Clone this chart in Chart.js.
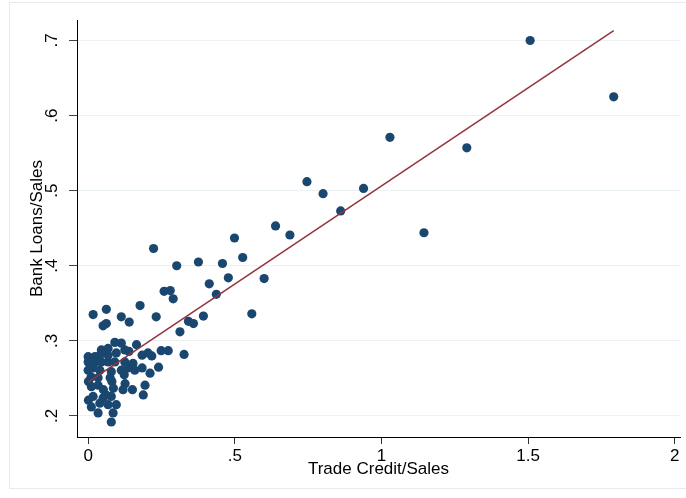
<!DOCTYPE html>
<html>
<head>
<meta charset="utf-8">
<title>Bank Loans vs Trade Credit</title>
<script src="https://cdn.jsdelivr.net/npm/chart.js@4.4.1/dist/chart.umd.min.js"></script>
<style>
  html, body { margin: 0; padding: 0; background: #fff; }
  #wrap { position: relative; width: 686px; height: 498px; }
</style>
</head>
<body>
<div id="wrap"><canvas id="myChart" width="686" height="498"></canvas></div>
<script>
// trade credit / sales (x) and bank loans / sales (y)
var tradeCredit = [
  1.507, 1.792, 1.291, 1.029, 1.145, 0.939, 0.861, 0.801, 0.746, 0.688,
  0.639, 0.600, 0.558, 0.527, 0.499, 0.478, 0.458, 0.437, 0.413, 0.393,
  0.376, 0.359, 0.342, 0.327, 0.313, 0.302, 0.290, 0.280, 0.259, 0.273,
  0.249, 0.240, 0.232, 0.223, 0.217, 0.204, 0.211, 0.184, 0.184, 0.194,
  0.188, 0.177, 0.165, 0.149, 0.140, 0.139, 0.151, 0.125, 0.113, 0.113,
  0.091, 0.123, 0.126, 0.119, 0.136, 0.159, 0.153, 0.125, 0.096, 0.068,
  0.068, 0.045, 0.040, 0.023, 0.000, 0.062, 0.017, 0.051, 0.062, 0.000,
  0.023, 0.045, 0.068, 0.091, 0.000, 0.017, 0.040, 0.079, 0.113, 0.010,
  0.034, 0.075, 0.001, 0.081, 0.011, 0.034, 0.052, 0.086, 0.017, 0.051,
  0.079, 0.001, 0.011, 0.040, 0.068, 0.096, 0.034, 0.085, 0.079, 0.061
];
var bankLoans = [
  0.700, 0.625, 0.557, 0.571, 0.444, 0.503, 0.473, 0.496, 0.512, 0.441,
  0.453, 0.383, 0.336, 0.411, 0.437, 0.384, 0.403, 0.362, 0.376, 0.333,
  0.405, 0.323, 0.326, 0.282, 0.312, 0.400, 0.356, 0.367, 0.366, 0.287,
  0.287, 0.265, 0.332, 0.423, 0.280, 0.284, 0.257, 0.281, 0.264, 0.241,
  0.228, 0.347, 0.295, 0.265, 0.325, 0.286, 0.235, 0.288, 0.297, 0.332,
  0.298, 0.255, 0.243, 0.235, 0.264, 0.261, 0.270, 0.272, 0.284, 0.281,
  0.290, 0.288, 0.281, 0.279, 0.279, 0.342, 0.335, 0.320, 0.323, 0.272,
  0.272, 0.272, 0.272, 0.272, 0.261, 0.264, 0.261, 0.259, 0.261, 0.252,
  0.251, 0.251, 0.246, 0.246, 0.239, 0.241, 0.235, 0.237, 0.226, 0.224,
  0.226, 0.221, 0.212, 0.217, 0.215, 0.215, 0.204, 0.204, 0.192, 0.228
];
// fitted line end points
var fitX = [0, 1.792];
var fitY = [0.245, 0.713];

var xTicks = [0, 0.5, 1, 1.5, 2];
var yTicks = [0.2, 0.3, 0.4, 0.5, 0.6, 0.7];

function stataLabel(v) {
  var s = String(Math.round(v * 10) / 10);
  return s.replace(/^0\./, '.');
}

var scatterPts = tradeCredit.map(function (x, i) { return {x: x, y: bankLoans[i]}; });
var fitPts = fitX.map(function (x, i) { return {x: x, y: fitY[i]}; });

var frame = {
  id: 'frame',
  beforeDraw: function (chart) {
    var c = chart.ctx;
    c.save();
    c.fillStyle = '#fff';
    c.fillRect(0, 0, chart.width, chart.height);
    c.strokeStyle = '#e4ecef';
    c.lineWidth = 1;
    c.strokeRect(9.5, 2.5, 690, 486);
    c.restore();
  }
};

var ctx = document.getElementById('myChart').getContext('2d');
var chart = new Chart(ctx, {
  type: 'scatter',
  data: {
    datasets: [{
      label: 'Bank Loans/Sales',
      data: scatterPts,
      backgroundColor: '#1a476f',
      borderWidth: 0,
      pointRadius: 4.6,
      order: 2
    }, {
      type: 'line',
      label: 'Fitted values',
      data: fitPts,
      borderColor: '#90353b',
      borderWidth: 1.5,
      pointRadius: 0,
      fill: false,
      order: 1
    }]
  },
  plugins: [frame],
  options: {
    responsive: false,
    animation: false,
    layout: { padding: { left: 20, top: 20, right: 6, bottom: 10 } },
    plugins: { legend: { display: false }, tooltip: { enabled: false } },
    scales: {
      x: {
        type: 'linear',
        min: -0.038,
        max: 2.018,
        afterBuildTicks: function (s) { s.ticks = xTicks.map(function (v) { return {value: v}; }); },
        afterFit: function (s) { s.height = 51; },
        border: { color: '#000', width: 1 },
        grid: { drawOnChartArea: false, tickLength: 7, tickColor: '#333' },
        ticks: {
          padding: 2,
          maxRotation: 0,
          color: '#000',
          font: { family: 'Liberation Sans', size: 17 },
          callback: function (v) { return stataLabel(v); }
        },
        title: {
          display: true,
          text: 'Trade Credit/Sales',
          color: '#000',
          font: { family: 'Liberation Sans', size: 17 },
          padding: { top: 0, bottom: 8 }
        }
      },
      y: {
        type: 'linear',
        min: 0.172,
        max: 0.727,
        afterBuildTicks: function (s) { s.ticks = yTicks.map(function (v) { return {value: v}; }); },
        afterFit: function (s) { s.width = 57; },
        border: { color: '#000', width: 1 },
        grid: { color: '#eaf2f3', lineWidth: 1, tickLength: 8, tickColor: '#444' },
        ticks: {
          padding: 10,
          minRotation: 90,
          maxRotation: 90,
          crossAlign: 'center',
          color: '#000',
          font: { family: 'Liberation Sans', size: 17 },
          callback: function (v) { return stataLabel(v); }
        },
        title: {
          display: true,
          text: 'Bank Loans/Sales',
          color: '#000',
          font: { family: 'Liberation Sans', size: 17 },
          padding: { top: 7, bottom: 0 }
        }
      }
    }
  }
});
</script>
</body>
</html>
